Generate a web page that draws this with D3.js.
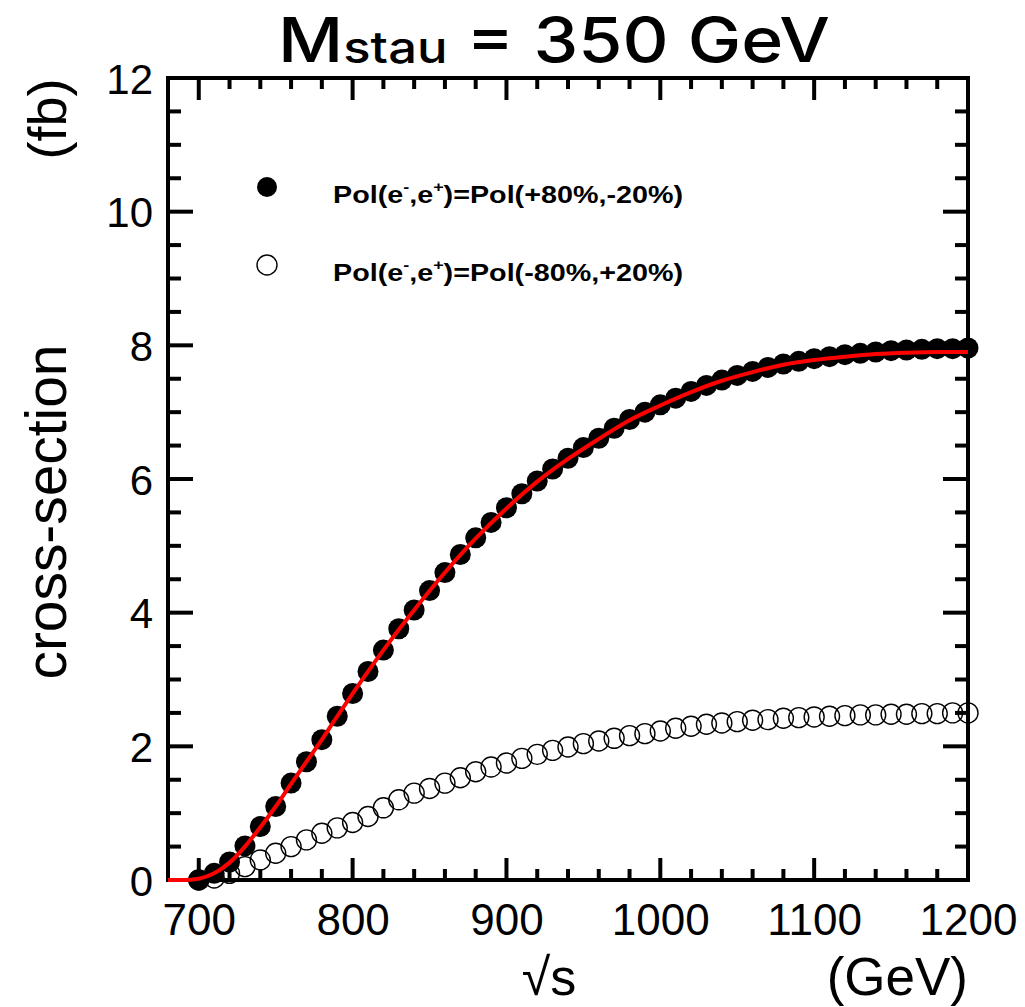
<!DOCTYPE html>
<html>
<head>
<meta charset="utf-8">
<script src="https://cdn.jsdelivr.net/npm/d3@7"></script>
<style>
  html, body { margin: 0; padding: 0; background: #fff; }
  svg { display: block; }
  text { font-family: "Liberation Sans", Arial, Helvetica, sans-serif; fill: #000; }
</style>
</head>
<body>
<svg id="chart" width="1025" height="1007"></svg>
<script>
// ---- data ----
const energies = [700,710,720,730,740,750,760,770,780,790,800,810,820,830,840,850,860,870,880,890,900,
  910,920,930,940,950,960,970,980,990,1000,1010,1020,1030,1040,1050,1060,1070,1080,1090,1100,
  1110,1120,1130,1140,1150,1160,1170,1180,1190,1200];
const xsecRightPol = [0.00,0.10,0.27,0.51,0.80,1.10,1.45,1.77,2.10,2.45,2.79,3.12,3.44,3.76,4.04,4.33,4.60,4.87,5.12,5.35,5.57,
  5.78,5.97,6.15,6.31,6.47,6.61,6.76,6.89,7.00,7.11,7.21,7.31,7.40,7.48,7.55,7.61,7.67,7.72,7.76,7.80,
  7.83,7.86,7.88,7.90,7.92,7.93,7.94,7.95,7.95,7.96];
const xsecLeftPol = [0.00,0.03,0.10,0.20,0.30,0.40,0.50,0.60,0.70,0.78,0.86,0.95,1.08,1.20,1.30,1.37,1.45,1.53,1.62,1.69,1.75,
  1.82,1.88,1.94,1.99,2.04,2.08,2.12,2.16,2.19,2.23,2.27,2.30,2.33,2.35,2.37,2.39,2.40,2.42,2.43,2.44,
  2.45,2.46,2.47,2.47,2.48,2.48,2.49,2.49,2.50,2.50];
const fitEnergies = [680,690,700,710,720,730,740,750,760,770,780,790,800,820,840,860,880,900,920,940,960,980,1000,
  1020,1040,1060,1080,1100,1120,1140,1160,1180,1200];
const fitValues = [0.00,0.00,0.02,0.10,0.26,0.50,0.79,1.10,1.44,1.77,2.10,2.45,2.79,3.44,4.04,4.60,5.11,5.56,5.96,6.30,6.60,6.88,7.10,
  7.30,7.47,7.60,7.71,7.78,7.83,7.87,7.89,7.90,7.90];
const xTicks = [700,800,900,1000,1100,1200];
const yTicks = [0,2,4,6,8,10,12];
const legendLabels = [["+80%","-20%"],["-80%","+20%"]];

// ---- layout ----
const svg = d3.select("#chart");
const L = 168, R = 968, T = 78, B = 880;
const x = d3.scaleLinear().domain([680, 1200]).range([L, R]);
const y = d3.scaleLinear().domain([0, 12]).range([B, T]);

const axisG = svg.append("g");
// frame
axisG.append("rect").attr("x", L).attr("y", T).attr("width", R - L).attr("height", B - T)
  .attr("fill", "none").attr("stroke", "#000").attr("stroke-width", 4);

// ticks
const xMinor = d3.range(680, 1201, 20);
const yMinor = d3.range(0, 12.01, 0.5);
const isXMajor = v => v % 100 === 0;
const isYMajor = v => Math.abs(v % 2) < 1e-9;
xMinor.forEach(v => {
  const len = isXMajor(v) ? 22 : 11;
  axisG.append("line").attr("x1", x(v)).attr("x2", x(v)).attr("y1", B).attr("y2", B - len)
    .attr("stroke", "#000").attr("stroke-width", 4);
  axisG.append("line").attr("x1", x(v)).attr("x2", x(v)).attr("y1", T).attr("y2", T + len)
    .attr("stroke", "#000").attr("stroke-width", 4);
});
yMinor.forEach(v => {
  const len = isYMajor(v) ? 25 : 13;
  axisG.append("line").attr("x1", L).attr("x2", L + len).attr("y1", y(v)).attr("y2", y(v))
    .attr("stroke", "#000").attr("stroke-width", 4);
  axisG.append("line").attr("x1", R).attr("x2", R - len).attr("y1", y(v)).attr("y2", y(v))
    .attr("stroke", "#000").attr("stroke-width", 4);
});

// tick labels via d3 axes (lines hidden, labels only)
const xAxis = d3.axisBottom(x).tickValues(xTicks).tickSize(0).tickPadding(0).tickFormat(d3.format("d"));
const gx = svg.append("g").attr("transform", `translate(0,${B})`).call(xAxis);
gx.select(".domain").remove();
gx.selectAll("text").attr("font-size", 44).attr("dy", null).attr("y", 55)
  .style("font-family", "'Liberation Sans', Arial, sans-serif");

const yAxis = d3.axisLeft(y).tickValues(yTicks).tickSize(0).tickPadding(0);
const gy = svg.append("g").attr("transform", `translate(${L - 15},0)`).call(yAxis);
gy.select(".domain").remove();
gy.selectAll("text").attr("font-size", 42).attr("dy", "0.36em")
  .style("font-family", "'Liberation Sans', Arial, sans-serif");

// axis titles
svg.append("text").attr("x", R).attr("y", 995).attr("text-anchor", "end")
  .attr("font-size", 53).text("(GeV)");
svg.append("text").attr("x", 549).attr("y", 995).attr("text-anchor", "middle")
  .attr("font-size", 52).text("√s");
svg.append("text").attr("transform", "translate(66,512) rotate(-90)").attr("text-anchor", "middle")
  .attr("font-size", 58).attr("textLength", 335).attr("lengthAdjust", "spacingAndGlyphs").text("cross-section");
svg.append("text").attr("transform", "translate(66,119) rotate(-90)").attr("text-anchor", "middle")
  .attr("font-size", 54).text("(fb)");

// title
const title = svg.append("text").attr("x", 278).attr("y", 62)
  .attr("textLength", 552).attr("lengthAdjust", "spacingAndGlyphs")
  .style("font-family", "Inter, 'Liberation Sans', sans-serif").attr("font-weight", 500);
title.append("tspan").attr("font-size", 62).text("M");
title.append("tspan").attr("font-size", 44).attr("dy", 1).text("stau");
title.append("tspan").attr("font-size", 62).attr("dy", -1).text(" = 350 GeV");

// data: open circles
svg.append("g").selectAll("circle").data(energies).join("circle")
  .attr("cx", d => x(d)).attr("cy", (d, i) => y(xsecLeftPol[i])).attr("r", 10)
  .attr("fill", "none").attr("stroke", "#000").attr("stroke-width", 1.4);

// data: filled circles
svg.append("g").selectAll("circle").data(energies).join("circle")
  .attr("cx", d => x(d)).attr("cy", (d, i) => y(xsecRightPol[i])).attr("r", 10.5)
  .attr("fill", "#000");

// fit line
const line = d3.line().x(d => x(d[0])).y(d => y(d[1])).curve(d3.curveMonotoneX);
svg.append("path").datum(fitEnergies.map((e, i) => [e, fitValues[i]]))
  .attr("d", line).attr("fill", "none").attr("stroke", "#ff0000").attr("stroke-width", 4);

// legend
const legendY = [187, 265];
legendLabels.forEach((lab, i) => {
  svg.append("circle").attr("cx", 267).attr("cy", legendY[i]).attr("r", 10)
    .attr("fill", i === 0 ? "#000" : "none").attr("stroke", "#000").attr("stroke-width", i === 0 ? 0 : 1.4);
  const t = svg.append("text").attr("x", 333).attr("y", legendY[i] + 16)
    .attr("font-size", 24).attr("font-weight", "bold")
    .attr("textLength", 350).attr("lengthAdjust", "spacingAndGlyphs");
  t.append("tspan").text("Pol(e");
  t.append("tspan").attr("font-size", 15).attr("dy", -11).text("-");
  t.append("tspan").attr("dy", 11).text(",e");
  t.append("tspan").attr("font-size", 15).attr("dy", -11).text("+");
  t.append("tspan").attr("dy", 11).text(`)=Pol(${lab[0]},${lab[1]})`);
});
</script>
</body>
</html>
